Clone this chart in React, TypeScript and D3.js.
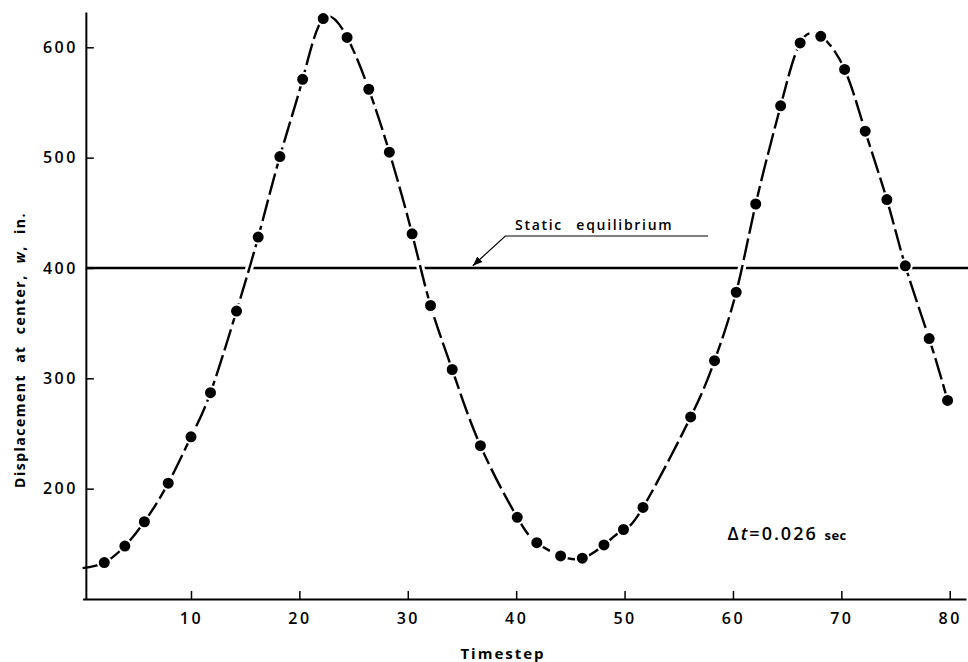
import React, { useRef, useEffect } from 'react';
import * as d3 from 'd3';

// timestep of each plotted point and the center displacement (in.)
const steps = [2.0, 3.9, 5.7, 7.9, 10.0, 11.8, 14.2, 16.2, 18.2, 20.3, 22.2, 24.4, 26.4, 28.3, 30.4, 32.1, 34.1, 36.7, 40.1, 41.9, 44.1, 46.1, 48.1, 49.9, 51.7, 56.1, 58.3, 60.3, 62.1, 64.4, 66.2, 68.1, 70.3, 72.2, 74.2, 75.9, 78.1, 79.8];
const displacement = [133, 148, 170, 205, 247, 287, 361, 428, 501, 571, 626, 609, 562, 505, 431, 366, 308, 239, 174, 151, 139, 137, 149, 163, 183, 265, 316, 378, 458, 547, 604, 610, 580, 524, 462, 402, 336, 280];

// the faired curve starts at the axis
const curveStart = [0, 128];

const xTicks = [10, 20, 30, 40, 50, 60, 70, 80];
const yTicks = [200, 300, 400, 500, 600];
const equilibrium = 400;

const FONT = '"Open Sans", "DejaVu Sans", sans-serif';

const App = () => {
  const svgRef = useRef<SVGSVGElement>(null);

  useEffect(() => {
    const svg = d3.select(svgRef.current);
    svg.selectAll('*').remove();

    const width = 968;
    const height = 662;

    const x = d3.scaleLinear().domain([0, 81.5]).range([82.6, 966]);
    const y = d3.scaleLinear().domain([100, 632]).range([599, 12]);

    const pts: [number, number][] = steps.map((s, i) => [s, displacement[i]]);
    const curvePts: [number, number][] = [[curveStart[0], curveStart[1]], ...pts];

    svg.append('rect').attr('width', width).attr('height', height).attr('fill', '#fff');

    // static equilibrium line
    svg.append('line')
      .attr('x1', x(0.3)).attr('x2', width)
      .attr('y1', y(equilibrium)).attr('y2', y(equilibrium))
      .attr('stroke', '#000').attr('stroke-width', 2.4);

    const line = d3.line<[number, number]>()
      .x(d => x(d[0]))
      .y(d => y(d[1]))
      .curve(d3.curveNatural);

    // white halo so the curve breaks the equilibrium line like the drafted original
    svg.append('path')
      .attr('d', line(curvePts))
      .attr('fill', 'none')
      .attr('stroke', '#fff')
      .attr('stroke-width', 8);

    // axes
    const xAxis = svg.append('g')
      .attr('transform', `translate(0,${y(100)})`)
      .call(d3.axisBottom(x).tickValues(xTicks).tickSizeInner(-8).tickSizeOuter(0).tickPadding(14));
    const yAxis = svg.append('g')
      .attr('transform', `translate(${x(0.3)},0)`)
      .call(d3.axisLeft(y).tickValues(yTicks).tickSizeInner(-8).tickSizeOuter(0).tickPadding(8));

    [xAxis, yAxis].forEach(g => {
      g.select('.domain').attr('stroke', '#000').attr('stroke-width', 2);
      g.selectAll('.tick line').attr('stroke', '#000').attr('stroke-width', 1.5);
      g.selectAll('.tick text')
        .attr('fill', '#000')
        .style('font-family', FONT)
        .style('font-size', '16px')
        .style('font-weight', 600)
        .style('letter-spacing', '2.5px');
    });

    // dashed faired curve
    svg.append('path')
      .attr('d', line(curvePts))
      .attr('fill', 'none')
      .attr('stroke', '#000')
      .attr('stroke-width', 2.4)
      .attr('stroke-dasharray', '22 5');

    svg.append('g')
      .selectAll('circle')
      .data(pts)
      .enter().append('circle')
      .attr('cx', d => x(d[0]))
      .attr('cy', d => y(d[1]))
      .attr('r', 6.5)
      .attr('fill', '#000')
      .attr('stroke', '#fff')
      .attr('stroke-width', 2);

    // leader for "Static equilibrium"
    svg.append('defs').append('marker')
      .attr('id', 'arrow')
      .attr('viewBox', '0 0 10 10')
      .attr('refX', 10).attr('refY', 5)
      .attr('markerWidth', 8).attr('markerHeight', 8)
      .attr('orient', 'auto')
      .append('path').attr('d', 'M0,1 L10,5 L0,9 Z').attr('fill', '#000');

    svg.append('polyline')
      .attr('points', [[57.7, 429], [39.0, 429], [36.0, 402]].map(d => `${x(d[0])},${y(d[1])}`).join(' '))
      .attr('fill', 'none')
      .attr('stroke', '#000')
      .attr('stroke-width', 1.2)
      .attr('marker-end', 'url(#arrow)');

    svg.append('text')
      .attr('x', x(39.9)).attr('y', y(434))
      .style('font-family', FONT)
      .style('font-size', '14px')
      .style('font-weight', 600)
      .style('letter-spacing', '1.7px')
      .style('word-spacing', '8px')
      .text('Static equilibrium');

    const dt = svg.append('text')
      .attr('x', x(59.5)).attr('y', y(153.5))
      .style('font-family', FONT)
      .style('font-size', '18px')
      .style('font-weight', 600)
      .style('letter-spacing', '2px');
    dt.append('tspan').text('Δ');
    dt.append('tspan').style('font-style', 'italic').text('t');
    dt.append('tspan').text('=0.026 ');
    dt.append('tspan').style('font-size', '13px').style('font-weight', 700).style('letter-spacing', '0.5px').text('sec');

    // axis titles
    svg.append('text')
      .attr('x', 503).attr('y', 659)
      .attr('text-anchor', 'middle')
      .style('font-family', FONT)
      .style('font-size', '15px')
      .style('font-weight', 700)
      .style('letter-spacing', '2px')
      .text('Timestep');

    const yl = svg.append('text')
      .attr('transform', 'translate(25,350) rotate(-90)')
      .attr('text-anchor', 'middle')
      .style('font-family', FONT)
      .style('font-size', '14px')
      .style('font-weight', 700)
      .style('letter-spacing', '1.5px')
      .style('word-spacing', '6px');
    yl.append('tspan').text('Displacement at center, ');
    yl.append('tspan').style('font-style', 'italic').text('w');
    yl.append('tspan').text(', in.');
  }, []);

  return (
    <svg ref={svgRef} width={968} height={662}
      style={{ position: 'absolute', left: 0, top: 0, display: 'block' }} />
  );
};

export default App;
